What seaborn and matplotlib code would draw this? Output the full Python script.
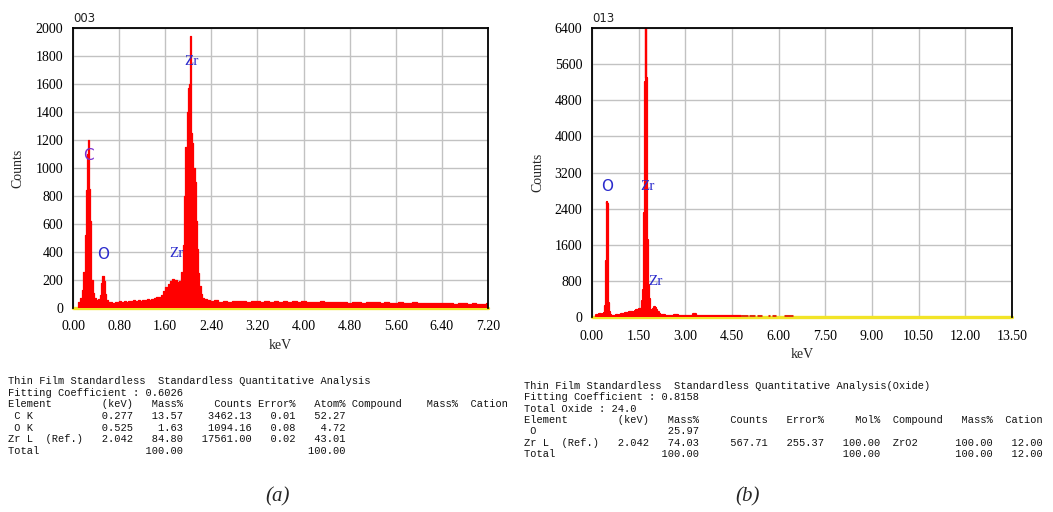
"""EDS spectra of two ZrO2 thin film samples with quantitative tables."""

import matplotlib
matplotlib.use("Agg")
import matplotlib.pyplot as plt
import seaborn as sns
import pandas as pd

# ---- spectrum (a), sample 003 ----
energy_a = [0.08, 0.11, 0.14, 0.17, 0.19, 0.21, 0.23, 0.24, 0.25, 0.26,
            0.27, 0.28, 0.29, 0.30, 0.31, 0.33, 0.35, 0.38, 0.42, 0.46,
            0.48, 0.50, 0.52, 0.54, 0.56, 0.58, 0.62, 0.66, 0.70, 0.74,
            0.78, 0.82, 0.86, 0.90, 0.94, 0.98, 1.02, 1.06, 1.10, 1.14,
            1.18, 1.22, 1.26, 1.30, 1.34, 1.38, 1.42, 1.46, 1.50, 1.54,
            1.58, 1.62, 1.66, 1.70, 1.74, 1.78, 1.82, 1.86, 1.90, 1.92,
            1.94, 1.96, 1.98, 2.00, 2.02, 2.03, 2.04, 2.05, 2.06, 2.08,
            2.10, 2.12, 2.14, 2.16, 2.18, 2.20, 2.23, 2.26, 2.30, 2.34,
            2.40, 2.48, 2.56, 2.64, 2.72, 2.80, 2.88, 2.96, 3.04, 3.12,
            3.20, 3.28, 3.36, 3.44, 3.52, 3.60, 3.68, 3.76, 3.84, 3.92,
            4.00, 4.08, 4.16, 4.24, 4.32, 4.40, 4.48, 4.56, 4.64, 4.72,
            4.80, 4.88, 4.96, 5.04, 5.12, 5.20, 5.28, 5.36, 5.44, 5.52,
            5.60, 5.68, 5.76, 5.84, 5.92, 6.00, 6.08, 6.16, 6.24, 6.32,
            6.40, 6.48, 6.56, 6.64, 6.72, 6.80, 6.88, 6.96, 7.04, 7.12, 7.20]
counts_a = [0, 40, 70, 130, 260, 520, 840, 1000, 1100, 1150,
            1200, 1050, 850, 620, 400, 200, 110, 70, 55, 62,
            95, 180, 230, 195, 100, 55, 42, 46, 38, 45,
            40, 48, 43, 50, 45, 52, 47, 55, 50, 58,
            53, 60, 56, 62, 58, 66, 75, 82, 78, 95,
            120, 150, 175, 190, 205, 200, 185, 190, 260, 450,
            800, 1150, 1400, 1570, 1600, 1750, 1940, 1580, 1250, 1180,
            1000, 900, 620, 420, 250, 160, 100, 75, 62, 55,
            48, 55, 46, 52, 44, 50, 47, 53, 45, 49,
            51, 43, 48, 46, 52, 44, 47, 42, 49, 45,
            50, 43, 46, 41, 47, 44, 40, 46, 42, 45,
            39, 44, 41, 38, 43, 40, 44, 37, 41, 39,
            36, 42, 38, 35, 40, 37, 39, 34, 38, 36,
            33, 37, 35, 32, 36, 33, 31, 35, 32, 30, 33]
xticks_a = [0.00, 0.80, 1.60, 2.40, 3.20, 4.00, 4.80, 5.60, 6.40, 7.20]
yticks_a = [0, 200, 400, 600, 800, 1000, 1200, 1400, 1600, 1800, 2000]
labels_a = ["C", "O", "Zr", "Zr"]
label_x_a = [0.27, 0.52, 1.79, 2.05]
label_y_a = [1090, 385, 390, 1760]

# ---- spectrum (b), sample 013 ----
energy_b = [0.12, 0.16, 0.20, 0.24, 0.28, 0.32, 0.36, 0.40, 0.43, 0.45,
            0.46, 0.47, 0.48, 0.49, 0.50, 0.51, 0.52, 0.53, 0.55, 0.57,
            0.60, 0.65, 0.70, 0.75, 0.80, 0.85, 0.90, 0.95, 1.00, 1.05,
            1.10, 1.15, 1.20, 1.25, 1.30, 1.35, 1.40, 1.45, 1.50, 1.55,
            1.60, 1.63, 1.65, 1.67, 1.69, 1.70, 1.71, 1.72, 1.73, 1.74,
            1.75, 1.76, 1.77, 1.78, 1.80, 1.82, 1.84, 1.87, 1.90, 1.94,
            1.98, 2.02, 2.05, 2.08, 2.12, 2.16, 2.20, 2.25, 2.30, 2.40,
            2.50, 2.60, 2.70, 2.80, 2.90, 3.00, 3.10, 3.20, 3.30, 3.40,
            3.50, 3.60, 3.70, 3.80, 3.90, 4.00, 4.10, 4.20, 4.30, 4.40,
            4.50, 4.60, 4.70, 4.80]
counts_b = [0, 55, 45, 70, 60, 50, 65, 90, 250, 300,
            1200, 1250, 2450, 2550, 2500, 1350, 1250, 300, 250, 120,
            40, 30, 28, 30, 35, 30, 40, 70, 75, 70,
            90, 85, 120, 100, 110, 95, 130, 150, 160, 170,
            180, 350, 600, 900, 2300, 3200, 4500, 5200, 6000, 6500,
            5300, 5200, 3000, 1700, 1650, 700, 400, 150, 80, 100,
            180, 220, 200, 150, 110, 70, 50, 40, 35, 30,
            32, 28, 35, 30, 27, 33, 29, 31, 60, 28,
            30, 26, 29, 27, 25, 28, 26, 24, 27, 25,
            23, 26, 24, 22]
# broken trace beyond 4.8 keV
tail_start_b = [4.80, 5.05, 5.30, 5.65, 5.80, 6.18]
tail_end_b = [5.00, 5.25, 5.48, 5.72, 5.92, 6.46]
tail_level_b = 22
xticks_b = [0.00, 1.50, 3.00, 4.50, 6.00, 7.50, 9.00, 10.50, 12.00, 13.50]
yticks_b = [0, 800, 1600, 2400, 3200, 4000, 4800, 5600, 6400]
labels_b = ["O", "Zr", "Zr"]
label_x_b = [0.49, 1.77, 2.05]
label_y_b = [2900, 2900, 780]

# ---- quantitative tables ----
table_a = [
    "Thin Film Standardless  Standardless Quantitative Analysis",
    "Fitting Coefficient : 0.6026",
    f"{'Element':<15}{'(keV)':>5}{'Mass%':>8}{'Counts':>11}{'Error%':>7}{'Atom%':>8}"
    f" {'Compound':<8}{'Mass%':>9}{'Cation':>8}",
    f"{' C K':<15}{'0.277':>5}{'13.57':>8}{'3462.13':>11}{'0.01':>7}{'52.27':>8}",
    f"{' O K':<15}{'0.525':>5}{'1.63':>8}{'1094.16':>11}{'0.08':>7}{'4.72':>8}",
    f"{'Zr L  (Ref.)':<15}{'2.042':>5}{'84.80':>8}{'17561.00':>11}{'0.02':>7}{'43.01':>8}",
    f"{'Total':<15}{'':>5}{'100.00':>8}{'':>11}{'':>7}{'100.00':>8}",
]
table_b = [
    "Thin Film Standardless  Standardless Quantitative Analysis(Oxide)",
    "Fitting Coefficient : 0.8158",
    "Total Oxide : 24.0",
    f"{'Element':<15}{'(keV)':>5}{'Mass%':>8}{'Counts':>11}{'Error%':>9}{'Mol%':>9}"
    f"  {'Compound':<8}{'Mass%':>8}{'Cation':>8}",
    f"{' O':<15}{'':>5}{'25.97':>8}",
    f"{'Zr L  (Ref.)':<15}{'2.042':>5}{'74.03':>8}{'567.71':>11}{'255.37':>9}{'100.00':>9}"
    f"  {'ZrO2':<8}{'100.00':>8}{'12.00':>8}",
    f"{'Total':<15}{'':>5}{'100.00':>8}{'':>11}{'':>9}{'100.00':>9}"
    f"  {'':<8}{'100.00':>8}{'12.00':>8}",
]

RED = "#ff0000"
YELLOW = "#f2e426"
SERIF = "Liberation Serif"

sns.set_style("whitegrid", {"grid.color": "#c2c2c2", "axes.edgecolor": "black"})
plt.rcParams["font.family"] = ["Liberation Serif", "DejaVu Sans"]

fig = plt.figure(figsize=(10.53, 5.12), dpi=100)
W, H = 1053, 512


def add_axes(left, top, right, bottom):
    return fig.add_axes([left / W, 1 - bottom / H, (right - left) / W, (bottom - top) / H])


def draw_spectrum(ax, energy, counts, xticks, yticks, tag, lw):
    df = pd.DataFrame({"keV": energy, "Counts": counts})
    ax.axhline(0, color=YELLOW, lw=2.4, zorder=1.9, clip_on=False)
    ax.fill_between(df["keV"], 0, df["Counts"], color=RED, lw=0, step="mid", zorder=2)
    sns.lineplot(data=df, x="keV", y="Counts", ax=ax, color=RED, lw=lw,
                 drawstyle="steps-mid", estimator=None, zorder=2.1)
    ax.set_xlim(xticks[0], xticks[-1])
    ax.set_ylim(yticks[0], yticks[-1])
    ax.set_xticks(xticks)
    ax.set_yticks(yticks)
    ax.set_xticklabels([f"{v:.2f}" for v in xticks])
    ax.set_yticklabels([str(v) for v in yticks])
    ax.grid(True, color="#c2c2c2", lw=1)
    ax.set_axisbelow(True)
    for side in ("top", "right", "left"):
        ax.spines[side].set_color("black")
        ax.spines[side].set_linewidth(1.3)
    ax.spines["bottom"].set_visible(False)
    ax.tick_params(axis="both", direction="out", color="#222222", labelsize=10,
                   labelcolor="black")
    ax.tick_params(axis="x", length=6, width=1.3, pad=3)
    ax.tick_params(axis="y", length=5, width=1.0, pad=2)
    ax.set_xlabel("keV", fontsize=10, labelpad=4)
    ax.set_ylabel("Counts", fontsize=10)
    ax.text(0.0, 1.012, tag, transform=ax.transAxes, ha="left", va="bottom",
            fontsize=8.5, family="DejaVu Sans", color="#222222")


ax1 = add_axes(73, 28, 488, 308)
draw_spectrum(ax1, energy_a, counts_a, xticks_a, yticks_a, "003", 0.9)
ax1.yaxis.set_label_coords(-0.118, 0.5)
for lab, x, y in zip(labels_a, label_x_a, label_y_a):
    fam = SERIF if lab == "Zr" else "DejaVu Sans"
    col = "#7a2bd0" if lab == "C" else "#2a2acc"
    ax1.text(x, y, lab, ha="center", va="center", fontsize=11, color=col,
             family=fam, zorder=4)

ax2 = add_axes(592, 28, 1012, 317)
draw_spectrum(ax2, energy_b, counts_b, xticks_b, yticks_b, "013", 1.6)
ax2.hlines([tail_level_b] * len(tail_start_b), tail_start_b, tail_end_b,
           color="#e03010", lw=2.2, zorder=4)
ax2.yaxis.set_label_coords(-0.114, 0.5)
for lab, x, y in zip(labels_b, label_x_b, label_y_b):
    fam = SERIF if lab == "Zr" else "DejaVu Sans"
    ax2.text(x, y, lab, ha="center", va="center", fontsize=11, color="#2a2acc",
             family=fam, zorder=4)

# tables under each spectrum
mono = dict(family="Liberation Mono", fontsize=7.5, color="#111111", va="center")
for i, line in enumerate(table_a):
    fig.text(8 / W, 1 - (381 + 11.7 * i) / H, line, **mono)
for i, line in enumerate(table_b):
    fig.text(524 / W, 1 - (386 + 11.3 * i) / H, line, **mono)

fig.text(278 / W, 1 - 497 / H, "(a)", ha="center", va="center", fontsize=15,
         style="italic", family=SERIF)
fig.text(748 / W, 1 - 497 / H, "(b)", ha="center", va="center", fontsize=15,
         style="italic", family=SERIF)

fig.savefig("out.png", dpi=100)
